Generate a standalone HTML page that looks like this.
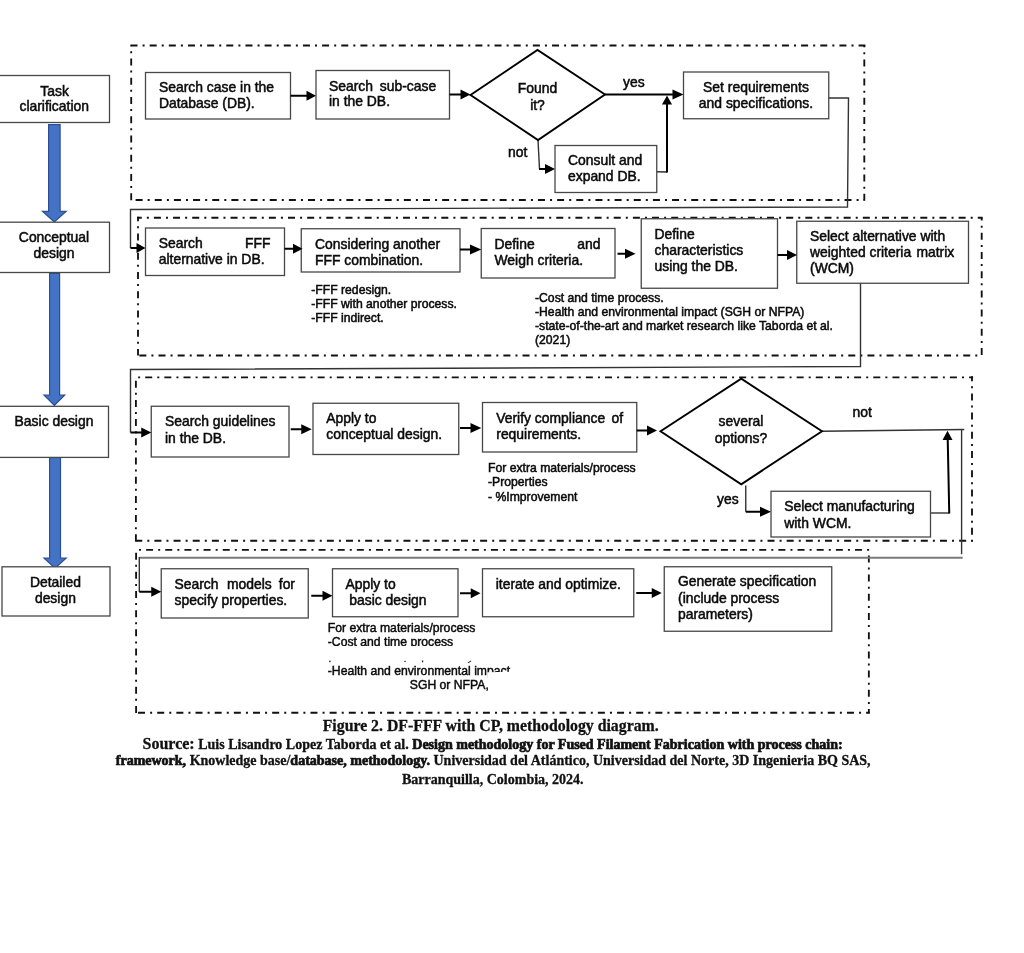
<!DOCTYPE html>
<html>
<head>
<meta charset="utf-8">
<title>DF-FFF with CP, methodology diagram</title>
<style>
html,body{margin:0;padding:0;background:#fff;}
body{width:1024px;height:953px;overflow:hidden;position:relative;}
svg{position:absolute;left:0;top:0;display:block;filter:blur(0.45px);}
.t{font-family:"Liberation Sans",sans-serif;font-size:13.9px;fill:#0a0a0a;stroke:#0a0a0a;stroke-width:0.5px;}
.s{font-family:"Liberation Sans",sans-serif;font-size:12.2px;fill:#0a0a0a;stroke:#0a0a0a;stroke-width:0.5px;}
.s2{font-family:"Liberation Sans",sans-serif;font-size:12.2px;fill:#0a0a0a;stroke:#0a0a0a;stroke-width:0.45px;}
.c{font-family:"Liberation Serif",serif;font-weight:bold;fill:#111;stroke:#111;stroke-width:0.3px;}
.bx{fill:#fff;stroke:#484848;stroke-width:1.3;}
.dd{fill:none;stroke:#111;stroke-width:1.85;}
.ln{fill:none;stroke:#333;stroke-width:1.4;}
.ar{fill:none;stroke:#000;stroke-width:2;}
.ah{fill:#000;stroke:none;}
.dm{fill:#fff;stroke:#000;stroke-width:1.9;stroke-linejoin:miter;}
.bl{fill:#4472c4;stroke:#2c4f92;stroke-width:1.2;}
.hv{stroke:#111;stroke-width:0.7px;}
</style>
</head>
<body>
<svg width="1024" height="953" viewBox="0 0 1024 953">
<rect x="0" y="0" width="1024" height="953" fill="#ffffff"/>

<!-- ===== dash-dot group frames ===== -->
<g id="frames">
<path class="dd" d="M130.30 45.50H865.40" stroke-dasharray="7 5.080 2 5.080" stroke-dashoffset="18.960"/>
<path class="dd" d="M864.30 45.50V200.90" stroke-dasharray="7 5.100 2 5.100" stroke-dashoffset="5.300"/>
<path class="dd" d="M135.60 200.00H864.30" stroke-dasharray="7 5.080 2 5.080" stroke-dashoffset="0.000"/>
<path class="dd" d="M131.20 45.50V200.40" stroke-dasharray="7 5.125 2 5.125" stroke-dashoffset="6.350"/>
<path class="dd" d="M137.00 217.70H982.60" stroke-dasharray="7 5.080 2 5.080" stroke-dashoffset="2.260"/>
<path class="dd" d="M981.70 217.70V355.30" stroke-dasharray="7 5.100 2 5.100" stroke-dashoffset="4.100"/>
<path class="dd" d="M137.00 355.50H981.70" stroke-dasharray="7 5.080 2 5.080" stroke-dashoffset="16.820"/>
<path class="dd" d="M138.00 216.70V355.50" stroke-dasharray="7 5.125 2 5.125" stroke-dashoffset="2.550"/>
<path class="dd" d="M137.00 377.30H973.10" stroke-dasharray="7 5.080 2 5.080" stroke-dashoffset="10.960"/>
<path class="dd" d="M972.00 376.30V541.60" stroke-dasharray="7 5.100 2 5.100" stroke-dashoffset="2.100"/>
<path class="dd" d="M134.90 540.70H973.00" stroke-dasharray="7 5.080 2 5.080" stroke-dashoffset="18.820"/>
<path class="dd" d="M135.90 380.70V541.70" stroke-dasharray="7 5.100 2 5.100" stroke-dashoffset="0.000"/>
<path class="dd" d="M137.00 549.90H869.80" stroke-dasharray="7 5.080 2 5.080" stroke-dashoffset="10.060"/>
<path class="dd" d="M868.85 552.00V713.30" stroke-dasharray="7 5.100 2 5.100" stroke-dashoffset="15.800"/>
<path class="dd" d="M137.10 712.70H869.80" stroke-dasharray="7 5.080 2 5.080" stroke-dashoffset="18.220"/>
<path class="dd" d="M136.10 552.70V713.60" stroke-dasharray="7 5.075 2 5.075" stroke-dashoffset="0.000"/>
</g>

<!-- ===== thin connectors ===== -->
<g id="connectors">
<path class="ln" d="M829 98H848.5L847.5 207L130.5 209.5V248"/>
<path class="ln" d="M860.5 283V366.5L130.5 369.5V432.5"/>
<path class="ln" d="M822 431.25L964.25 429.5"/>
<path class="ln" d="M961.6 429.5V554.2"/>
<path d="M139.3 557.8H962.75" fill="none" stroke="#7a7a7a" stroke-width="2"/>
<path class="ln" d="M139.3 557V592"/>
<path class="ln" d="M538 140L539.5 169"/>
<path class="ln" d="M657 171.75L667 172"/>
<path class="ln" d="M745.75 485.5V511.75"/>
<path class="ln" d="M930.5 513H949.25"/>
</g>

<!-- ===== blue stage arrows ===== -->
<g id="stage-arrows">
<path class="bl" d="M48.6 124.6H60.1V211.3H66.2L54.3 222L42.5 211.3H48.6Z"/>
<path class="bl" d="M49.6 273.5H59.6V395.2H64.7L54.4 405.3L44 395.2H49.6Z"/>
<path class="bl" d="M49.6 457.4H60.5V558.2H66.2L55 568.3L44 558.2H49.6Z"/>
</g>

<!-- ===== process boxes ===== -->
<g id="boxes">
<rect class="bx" x="-2" y="75.5" width="111.5" height="47"/>
<rect class="bx" x="-2" y="222.2" width="111.5" height="50.3"/>
<rect class="bx" x="-2" y="406.3" width="110.5" height="51.1"/>
<rect class="bx" x="2" y="566.8" width="108" height="49.2"/>

<rect class="bx" x="145.5" y="72.5" width="145" height="46.5"/>
<rect class="bx" x="316" y="70.5" width="133.5" height="48.5"/>
<rect class="bx" x="683.5" y="72" width="145.25" height="46.75"/>
<rect class="bx" x="555" y="145.5" width="101.75" height="47"/>

<rect class="bx" x="145.5" y="228" width="139" height="47.5"/>
<rect class="bx" x="301.25" y="228.75" width="158.75" height="43.25"/>
<rect class="bx" x="481.25" y="228.5" width="133.75" height="49.5"/>
<rect class="bx" x="641.25" y="218.75" width="136.25" height="69.5"/>
<rect class="bx" x="796.75" y="221.25" width="171.75" height="62"/>

<rect class="bx" x="151.25" y="406.25" width="137.75" height="50.75"/>
<rect class="bx" x="313" y="403.25" width="145.75" height="51.25"/>
<rect class="bx" x="482.5" y="402.5" width="154.25" height="49.5"/>
<rect class="bx" x="771" y="491.25" width="159.5" height="45.75"/>

<rect class="bx" x="161.25" y="568.75" width="147" height="49.25"/>
<rect class="bx" x="332.5" y="568.75" width="125.5" height="48"/>
<rect class="bx" x="482.5" y="568.75" width="151.25" height="48"/>
<rect class="bx" x="664.25" y="566.75" width="167.5" height="64.5"/>
</g>

<!-- ===== decision diamonds ===== -->
<g id="diamonds">
<path class="dm" d="M470.5 95L537.5 50L605 94.5L538 140Z"/>
<path class="dm" d="M660.5 431.25L741.25 378.75L822 431.25L741.25 484.25Z"/>
</g>

<!-- ===== flow arrows ===== -->
<g id="arrows">
<!-- row 1 -->
<path class="ar" d="M290.5 95.75H310"/><path class="ah" d="M316 95.75L306.5 90.75V100.75Z"/>
<path class="ar" d="M449.5 94.5H464"/><path class="ah" d="M470.5 94.5L460.5 89.5V99.5Z"/>
<path class="ar" d="M605 94.5H676"/><path class="ah" d="M683.5 94.5L672.5 89.5V99.5Z"/>
<path class="ar" d="M539 169H548"/><path class="ah" d="M555 169L545 164V174Z"/>
<path class="ar" d="M667 172.5V102"/><path class="ah" d="M667 95.5L662 104.5H672Z"/>
<!-- row 2 -->
<path class="ar" d="M130.5 248H140"/><path class="ah" d="M145.5 248L136.5 243V253Z"/>
<path class="ar" d="M284.5 248.75H296"/><path class="ah" d="M302.5 248.75L293 243.75V253.75Z"/>
<path class="ar" d="M460 249.5H474"/><path class="ah" d="M481.25 249.5L470 244.5V254.5Z"/>
<path class="ar" d="M617.5 253.75H628"/><path class="ah" d="M635.5 253.75L625 248.75V258.75Z"/>
<path class="ar" d="M777.5 255H790"/><path class="ah" d="M797 255L787 250V260Z"/>
<!-- row 3 -->
<path class="ar" d="M130.5 432.5H144"/><path class="ah" d="M151.25 432.5L141.25 427.5V437.5Z"/>
<path class="ar" d="M290.75 429.25H304"/><path class="ah" d="M311.75 429.25L301.25 424.25V434.25Z"/>
<path class="ar" d="M460 428H474"/><path class="ah" d="M481.25 428L470.5 423V433Z"/>
<path class="ar" d="M636.75 430.5H650"/><path class="ah" d="M657 430.5L647 425.5V435.5Z"/>
<path class="ar" d="M745.75 511.75H764"/><path class="ah" d="M771 511.75L760 506.75V516.75Z"/>
<path class="ar" d="M949.25 513.5L947.7 438"/><path class="ah" d="M947.5 430.75L942.5 440H952.5Z"/>
<!-- row 4 -->
<path class="ar" d="M139.25 591.75H154"/><path class="ah" d="M161.25 591.75L151.25 586.75V596.75Z"/>
<path class="ar" d="M311.25 595.75H325"/><path class="ah" d="M332.5 595.75L322.5 590.75V600.75Z"/>
<path class="ar" d="M460 593.25H474"/><path class="ah" d="M480.5 593.25L470.75 588.25V598.25Z"/>
<path class="ar" d="M636.25 593H655"/><path class="ah" d="M661.75 593L651.75 588V598Z"/>
</g>

<!-- ===== main text ===== -->
<g id="labels" class="t">
<text x="54.6" y="95.5" text-anchor="middle">Task</text>
<text x="54.2" y="111.25" text-anchor="middle">clarification</text>
<text x="54" y="242.3" text-anchor="middle">Conceptual</text>
<text x="54" y="258.4" text-anchor="middle">design</text>
<text x="54" y="426" text-anchor="middle">Basic design</text>
<text x="55.4" y="586.6" text-anchor="middle">Detailed</text>
<text x="55.4" y="602.9" text-anchor="middle">design</text>

<text x="159" y="91.75">Search case in the</text>
<text x="159" y="107.5">Database (DB).</text>
<text x="329" y="90.75">Search</text>
<text x="379.75" y="90.75">sub-case</text>
<text x="329" y="106.25">in the DB.</text>
<text x="537.5" y="92.5" text-anchor="middle">Found</text>
<text x="537.5" y="110" text-anchor="middle">it?</text>
<text x="623" y="87">yes</text>
<text x="508" y="157">not</text>
<text x="568" y="165">Consult and</text>
<text x="568" y="181">expand DB.</text>
<text x="756" y="92" text-anchor="middle">Set requirements</text>
<text x="756" y="108" text-anchor="middle">and specifications.</text>

<text x="158.75" y="248">Search</text>
<text x="270.5" y="248" text-anchor="end">FFF</text>
<text x="158.75" y="264">alternative in DB.</text>
<text x="315" y="248.75">Considering another</text>
<text x="315" y="264.5">FFF combination.</text>
<text x="494.5" y="248.5">Define</text>
<text x="600.5" y="248.5" text-anchor="end">and</text>
<text x="494.5" y="264.5">Weigh criteria.</text>
<text x="654.5" y="238.8">Define</text>
<text x="654.5" y="255">characteristics</text>
<text x="654.5" y="270.8">using the DB.</text>
<text x="810" y="240.75">Select alternative with</text>
<text x="810" y="256.75">weighted criteria</text>
<text x="954.25" y="256.75" text-anchor="end">matrix</text>
<text x="810" y="273">(WCM)</text>

<text x="165" y="426.25">Search guidelines</text>
<text x="165" y="442.5">in the DB.</text>
<text x="326.25" y="422.5">Apply to</text>
<text x="326.25" y="438.75">conceptual design.</text>
<text x="496.25" y="422.5">Verify compliance</text>
<text x="623" y="422.5" text-anchor="end">of</text>
<text x="496.25" y="438.5">requirements.</text>
<text x="741" y="425.5" text-anchor="middle">several</text>
<text x="741" y="442.5" text-anchor="middle">options?</text>
<text x="852.5" y="417">not</text>
<text x="717" y="503.75">yes</text>
<text x="784.25" y="511.25">Select manufacturing</text>
<text x="784.25" y="527.5">with WCM.</text>

<text x="174.5" y="589.25">Search</text>
<text x="227" y="589.25">models</text>
<text x="295" y="589.25" text-anchor="end">for</text>
<text x="174.5" y="605">specify properties.</text>
<text x="345.5" y="589.25">Apply to</text>
<text x="349.25" y="604.5">basic design</text>
<text x="495.75" y="589.25">iterate and optimize.</text>
<text x="678" y="586.25">Generate specification</text>
<text x="678" y="602.5">(include process</text>
<text x="678" y="619.25">parameters)</text>
</g>

<!-- ===== small annotation text ===== -->
<g id="notes" class="s">
<text x="311.25" y="293.75">-FFF redesign.</text>
<text x="311.25" y="307.75">-FFF with another process.</text>
<text x="311.25" y="321.75">-FFF indirect.</text>

<text x="535" y="302.4">-Cost and time process.</text>
<text x="535" y="316.4">-Health and environmental impact (SGH or NFPA)</text>
<text x="535" y="330.4">-state-of-the-art and market research like Taborda et al.</text>
<text x="535" y="344.4">(2021)</text>

<text x="488" y="472">For extra materials/process</text>
<text x="488" y="486.25">-Properties</text>
<text x="488" y="500.5">- %Improvement</text>
</g>
<g id="notes4" class="s2">
<text x="327.8" y="632.2">For extra materials/process</text>
<text x="327.8" y="646">-Cost and time process</text>
<rect x="320" y="646.1" width="200" height="8" fill="#fff" stroke="none"/>
<text x="327.8" y="674.6">-Health and environmental impact</text>
<path d="M487.2 672.2L516 671.7V679.5H487.2Z" fill="#fff" stroke="none"/>
<text x="409.8" y="688.9">SGH or NFPA,</text>
<g fill="#222" stroke="none">
<rect x="329.2" y="660.6" width="1.4" height="1.6"/>
<rect x="404.4" y="660.8" width="1.3" height="1.3"/>
<rect x="421.9" y="660.5" width="1.3" height="1.8"/>
<path d="M467.6 662.6L470.9 660.4L471.3 661.2L468.2 663.2Z"/>
</g>
</g>

<!-- ===== caption ===== -->
<g id="caption" class="c">
<text x="490.7" y="731.2" text-anchor="middle" font-size="15.8">Figure 2. DF-FFF with CP, methodology diagram.</text>
<text x="492.6" y="748.5" text-anchor="middle" font-size="14"><tspan font-size="16">Source:</tspan> Luis Lisandro Lopez Taborda et al. <tspan class="hv">Design methodology for Fused Filament Fabrication with process chain:</tspan></text>
<text x="493.2" y="764.6" text-anchor="middle" font-size="14"><tspan class="hv">framework,</tspan> Knowledge base/<tspan class="hv">database, methodology.</tspan> Universidad del Atlántico, Universidad del Norte, 3D Ingenieria BQ SAS,</text>
<text x="492.8" y="784.3" text-anchor="middle" font-size="14">Barranquilla, Colombia, 2024.</text>
</g>
</svg>
</body>
</html>
